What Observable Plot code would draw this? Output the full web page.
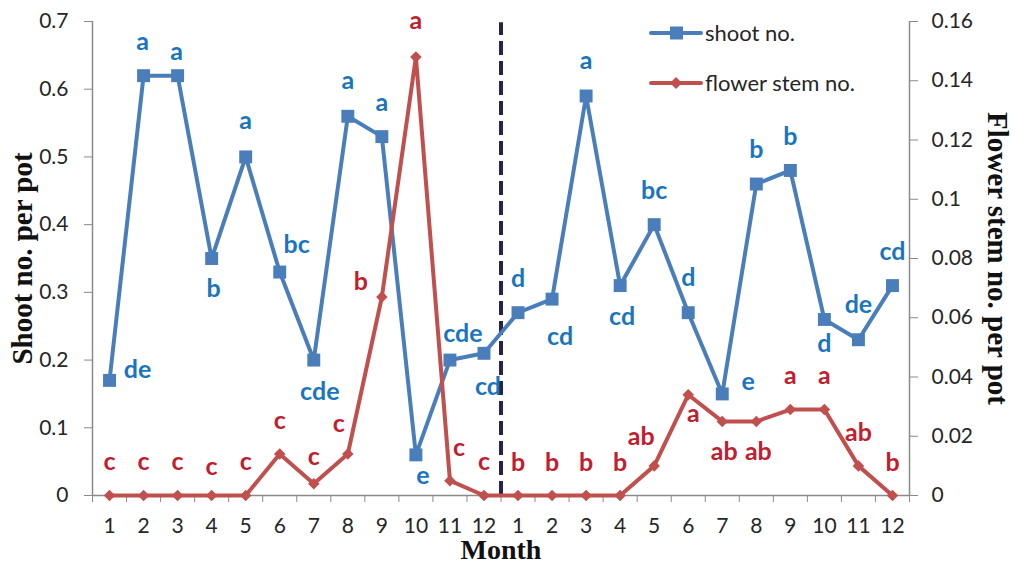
<!DOCTYPE html>
<html>
<head>
<meta charset="utf-8">
<script src="https://cdn.jsdelivr.net/npm/d3@7"></script>
<script src="https://cdn.jsdelivr.net/npm/@observablehq/plot@0.6"></script>
<style>
  body { margin: 0; background: #fff; }
  #wrap { position: relative; width: 1015px; height: 563px; }
  #legend { position: absolute; left: 0; top: 0; pointer-events: none; }
</style>
</head>
<body>
<div id="wrap"></div>
<script>
// ---- data ----
const monthLabels = ["1","2","3","4","5","6","7","8","9","10","11","12","1","2","3","4","5","6","7","8","9","10","11","12"];
const shootValues = [0.17,0.62,0.62,0.35,0.50,0.33,0.20,0.56,0.53,0.06,0.20,0.21,
                     0.27,0.29,0.59,0.31,0.40,0.27,0.15,0.46,0.48,0.26,0.23,0.31];
const flowerValues = [0,0,0,0,0,0.014,0.004,0.014,0.067,0.148,0.005,0,
                      0,0,0,0,0.010,0.034,0.025,0.025,0.029,0.029,0.010,0];
const shootLetters = ["de","a","a","b","a","bc","cde","a","a","e","cde","cd",
                      "d","cd","a","cd","bc","d","e","b","b","d","de","cd"];
const flowerLetters = ["c","c","c","c","c","c","c","c","b","a","c","c",
                       "b","b","b","b","ab","a","ab","ab","a","a","ab","b"];
const shootTicks = [0,0.1,0.2,0.3,0.4,0.5,0.6,0.7];
const flowerTicks = [0,0.02,0.04,0.06,0.08,0.1,0.12,0.14,0.16];
const seriesNames = ["shoot no.", "flower stem no."];

// ---- label placement (pixels, relative to each point) ----
const shootDx = [28,-1,-1,2,0,17,6,0,0,7,13,4, 0,8,0,2,0,0,26,0,0,0,0,0];
const shootDy = [-10,-34,-24,30,-36,-27,32,-35,-34,21,-26,34, -34,38,-35,31,-34,-35,-12,-34,-33,25,-35,-34];
const flowerDx = [0,0,0,0,0,0,0,-9,-21,0,9,0, 0,0,0,0,-13,5,2,2,0,0,0,0];
const flowerDy = [-34,-34,-34,-29,-34,-33,-27,-30,-15,-36,-33,-34, -33,-33,-33,-33,-29,19,31,31,-34,-34,-33,-33];

// ---- styles ----
const blue = "#4a7ebb", red = "#c0504d";
const blueText = "#1b75bc", redText = "#c0202e";
const k = 0.7 / 0.16; // flower -> shoot scale factor

const shootData = shootValues.map((v, i) => ({x: i + 1, y: v}));
const flowerData = flowerValues.map((v, i) => ({x: i + 1, y: v * k}));
const centers = monthLabels.map((_, i) => i + 1);
const bounds = d3.range(0, 25).map(i => i + 0.5);

const letterMarks = [];
shootLetters.forEach((t, i) => {
  letterMarks.push(Plot.text([i], {x: () => i + 1, y: () => shootValues[i], text: () => t,
    dx: shootDx[i], dy: shootDy[i], fill: blueText, fontWeight: "bold", fontSize: 25}));
});
flowerLetters.forEach((t, i) => {
  letterMarks.push(Plot.text([i], {x: () => i + 1, y: () => flowerValues[i] * k, text: () => t,
    dx: flowerDx[i], dy: flowerDy[i], fill: redText, fontWeight: "bold", fontSize: 25}));
});

const titleFont = {fontFamily: "Liberation Serif", fontWeight: "bold", fontSize: 29, fill: "#111",
                   textAnchor: "middle", lineAnchor: "middle"};

const chart = Plot.plot({
  width: 1015, height: 563,
  marginLeft: 92, marginRight: 106, marginTop: 21, marginBottom: 68,
  x: {type: "linear", domain: [0.5, 24.5], axis: null},
  y: {domain: [0, 0.7], axis: null},
  style: {fontFamily: "Lato", color: "#262626", background: "#fff"},
  marks: [
    Plot.ruleX([0.5, 24.5], {stroke: "#8a8a8a", strokeWidth: 1.5}),
    Plot.ruleY([0], {stroke: "#8a8a8a", strokeWidth: 1.5}),
    Plot.axisY(shootTicks, {anchor: "left", label: null, tickSize: 8, tickPadding: 16, stroke: "#8a8a8a",
      tickFormat: d => String(+d.toFixed(1)), fontSize: 21}),
    Plot.axisY(flowerTicks.map(v => v * k), {anchor: "right", label: null, tickSize: 8, tickPadding: 14, stroke: "#8a8a8a",
      tickFormat: d => String(+(d / k).toFixed(2)), fontSize: 21}),
    Plot.axisX(bounds, {anchor: "bottom", label: null, tickSize: 7, stroke: "#8a8a8a", tickFormat: () => ""}),
    Plot.axisX(centers, {anchor: "bottom", label: null, tickSize: 0, tickPadding: 23, tickFormat: d => monthLabels[d - 1], fontSize: 21}),
    Plot.ruleX([12.5], {y1: 0, y2: 0.698, stroke: "#24244f", strokeWidth: 4, strokeDasharray: "14,6"}),
    Plot.line(shootData, {x: "x", y: "y", stroke: blue, strokeWidth: 4}),
    Plot.dot(shootData, {x: "x", y: "y", symbol: "square", r: 7.3, fill: blue}),
    Plot.line(flowerData, {x: "x", y: "y", stroke: red, strokeWidth: 4}),
    Plot.dot(flowerData, {x: "x", y: "y", symbol: "diamond2", r: 5.2, fill: red}),
    ...letterMarks,
    Plot.text(["Shoot no. per pot"], {frameAnchor: "left", dx: -70, rotate: -90, ...titleFont}),
    Plot.text(["Flower stem no. per pot"], {frameAnchor: "right", dx: 88, rotate: 90, ...titleFont}),
    Plot.text(["Month"], {frameAnchor: "bottom", dy: 55, ...titleFont, fontSize: 28})
  ]
});

const wrap = document.getElementById("wrap");
wrap.appendChild(chart);

// ---- legend overlay ----
const leg = d3.select(wrap).append("svg").attr("id", "legend").attr("width", 1015).attr("height", 563);
const items = [{name: seriesNames[0], color: blue, y: 33, sym: "square"},
               {name: seriesNames[1], color: red, y: 83, sym: "diamond"}];
items.forEach(it => {
  leg.append("line").attr("x1", 651).attr("x2", 701).attr("y1", it.y).attr("y2", it.y)
    .attr("stroke", it.color).attr("stroke-width", 4).attr("stroke-linecap", "round");
  if (it.sym === "square") {
    leg.append("rect").attr("x", 670).attr("y", it.y - 6.5).attr("width", 13).attr("height", 13).attr("fill", it.color);
  } else {
    leg.append("path").attr("d", `M676,${it.y - 6}L682,${it.y}L676,${it.y + 6}L670,${it.y}Z`).attr("fill", it.color);
  }
  leg.append("text").attr("x", 705).attr("y", it.y).attr("dy", "0.35em")
    .attr("font-family", "Lato").attr("font-size", 22).attr("fill", "#262626").text(it.name);
});
</script>
</body>
</html>
